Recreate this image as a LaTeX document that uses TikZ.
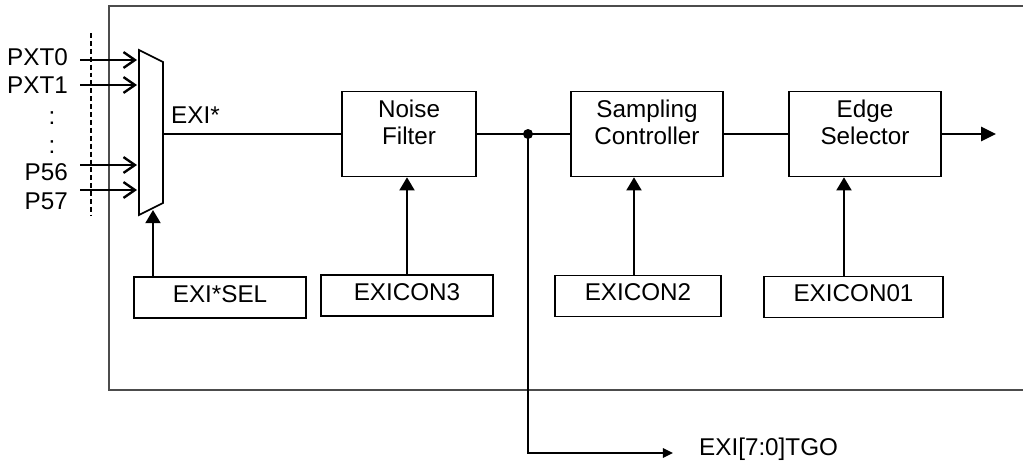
\documentclass[tikz,border=0pt]{standalone}
\usepackage{fontspec}
\setmainfont{Liberation Sans}
\usepackage{tikz}
\usetikzlibrary{arrows.meta}
\usetikzlibrary{calc}

\begin{document}
\begin{tikzpicture}[x=0.02cm,y=-0.02cm,line width=1.35pt,
		font=\fontsize{13.8pt}{15.3pt}\selectfont,
		inarr/.style={-{Straight Barb[length=6.5pt,width=9pt]}},
		ctl/.style={-{Triangle[length=7.5pt,width=8.5pt]}}]
		\tikzstyle{blk}=[draw,line width=0.9pt,rectangle,minimum width=3.04cm,minimum height=1.7cm,inner sep=0pt]
		\tikzstyle{reg}=[draw,line width=0.9pt,rectangle,minimum height=0.82cm,inner sep=0pt,text depth=4.5pt]
		\tikzstyle{blktxt}=[align=center,inner sep=0pt,yshift=0.24cm]
		\tikzstyle{txt}=[inner sep=0pt]
		\tikzstyle{junc}=[circle,fill,inner sep=0pt,minimum size=0.2cm]
		
		\useasboundingbox (0,0) rectangle (1023,463);
		\draw[black!70,line width=1pt] (109,6) rectangle (1030,390);
		\draw[line width=0.7pt,dash pattern=on 2.8pt off 1.7pt] (91,33) -- (91,215);
		
		% mux
		\draw[line width=0.9pt] (139,50) -- (163,62) -- (163,203) -- (139,215) -- cycle;
		\coordinate (muxin)  at (137,0);
		\coordinate (muxout) at (163,134);
		\coordinate (muxsel) at (153,210);
		
		\node[txt,anchor=east] (p0) at (69,57.5) {PXT0};
		\node[txt,anchor=east] (p1) at (69,85)   {PXT1};
		\node[txt] (d1) at (52,118) {:};
		\node[txt] (d2) at (52,147) {:};
		\node[txt,anchor=east] (p56) at (69,171.7) {P56};
		\node[txt,anchor=east] (p57) at (69,201)   {P57};
		\coordinate (i0)  at (80,60);
		\coordinate (i1)  at (80,85);
		\coordinate (i56) at (80,165);
		\coordinate (i57) at (80,190);
		\draw[inarr] (i0)  -- (i0 -| muxin);
		\draw[inarr] (i1)  -- (i1 -| muxin);
		\draw[inarr] (i56) -- (i56 -| muxin);
		\draw[inarr] (i57) -- (i57 -| muxin);
		
		\node[txt,anchor=west] (exi) at (170,115) {EXI*};
		
		% blocks
		\node[blk,minimum width=2.68cm,label={[blktxt]center:Noise\\Filter}] (nf) at (409,134) {};
		\node[blk,label={[blktxt]center:Sampling\\Controller}] (sc) at (647,134) {};
		\node[blk,label={[blktxt]center:Edge\\Selector}] (es) at (865,134) {};
		\node[junc] (j) at (528,134) {};
		
		\node[reg,minimum width=3.44cm] (sel)   at (220,297.5) {EXI*SEL};
		\node[reg,minimum width=3.44cm] (con3)  at (407,295.5) {EXICON3};
		\node[reg,minimum width=3.32cm] (con2)  at (638,296)   {EXICON2};
		\node[reg,minimum width=3.58cm] (con01) at (853.5,297) {EXICON01};
		
		\coordinate (a3)  at (407,0);
		\coordinate (a2)  at (634,0);
		\coordinate (a01) at (844,0);
		\coordinate (out) at (996,134);
		\coordinate (tgo) at (673,453);
		\node[txt,anchor=west] (tgotxt) at (698,449) {EXI[7:0]TGO};
		
		\draw (muxout) -- (nf.west);
		\draw (nf.east) -- (j.center) -- (sc.west);
		\draw (sc.east) -- (es.west);
		\draw[-{Triangle[length=8.5pt,width=8pt]}] (es.east) -- (out);
		\draw[-{Triangle[length=5.7pt,width=5.2pt]}] (j.center) -- (j.center |- tgo) -- (tgo);
		
		\draw[ctl] (sel.north -| muxsel) -- (muxsel);
		\draw[ctl] (con3.north -| a3) -- (nf.south -| a3);
		\draw[ctl] (con2.north -| a2) -- (sc.south -| a2);
		\draw[ctl] (con01.north -| a01) -- (es.south -| a01);
		
\end{tikzpicture}
\end{document}
